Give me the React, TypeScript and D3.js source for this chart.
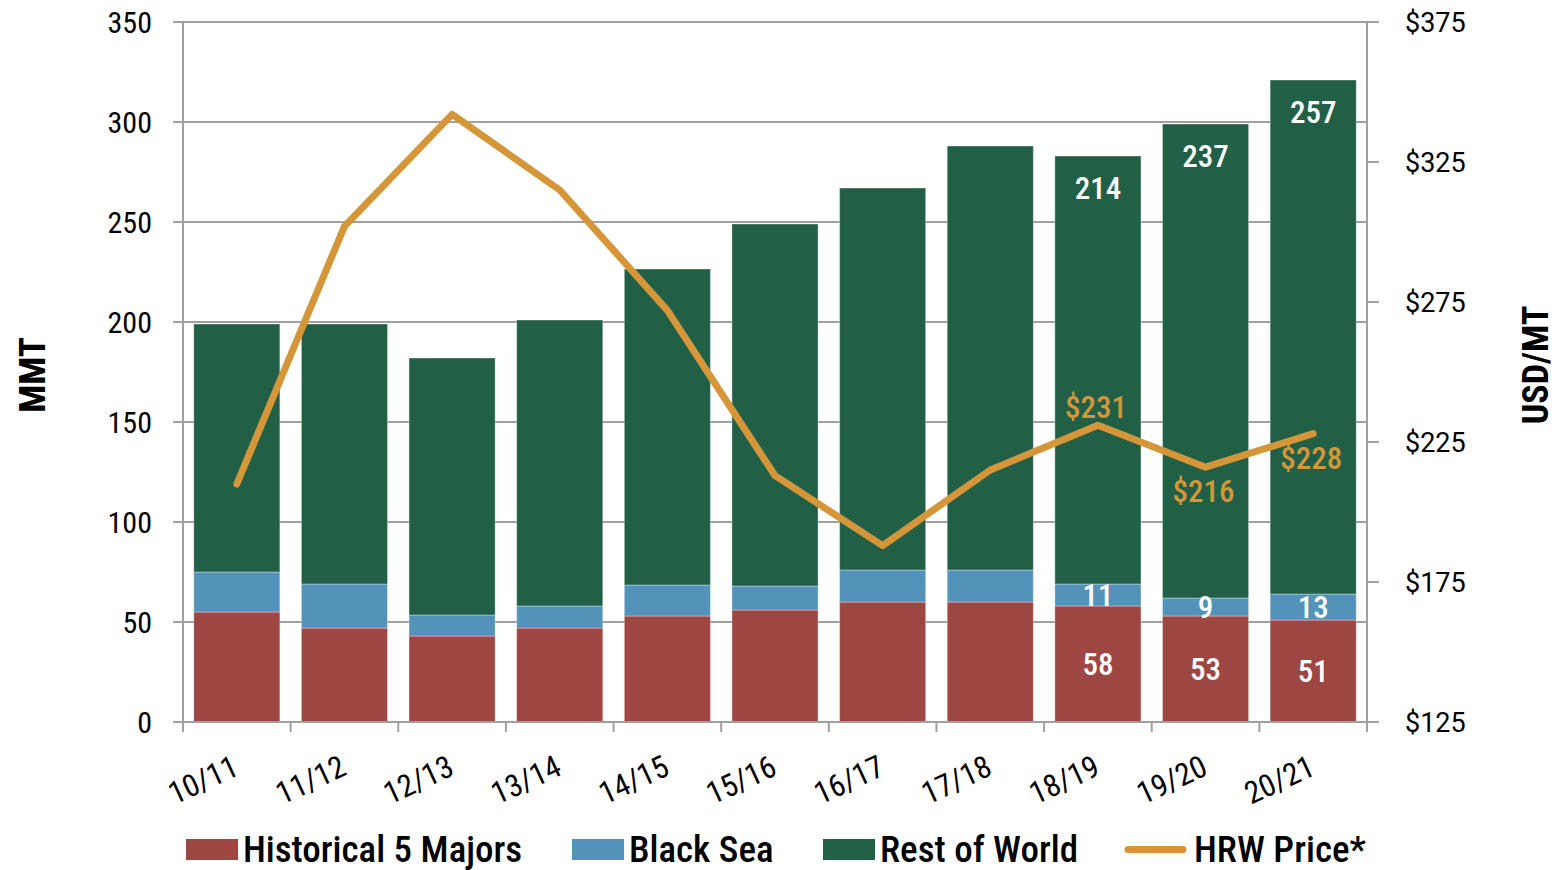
import * as d3 from "d3";

const categories = ["10/11", "11/12", "12/13", "13/14", "14/15", "15/16", "16/17", "17/18", "18/19", "19/20", "20/21"];
const majors = [55, 47, 43, 47, 53, 56, 60, 60, 58, 53, 51];
const blackSea = [20, 22, 10.5, 11, 15.5, 12, 16, 16, 11, 9, 13];
const restOfWorld = [124, 130, 128.5, 143, 158, 181, 191, 212, 214, 237, 257];
const hrwPrice = [210, 302, 342, 315, 272, 213, 188, 215, 231, 216, 228];
const leftTicks = [0, 50, 100, 150, 200, 250, 300, 350];
const rightTicks = [125, 175, 225, 275, 325, 375];
// which bars get value labels
const labeledBars = ["18/19", "19/20", "20/21"];
const priceLabelPos: Record<string, "above" | "below"> = { "18/19": "above", "19/20": "below", "20/21": "below" };

const COLORS = { majors: "#9e4642", black: "#5393b9", rest: "#216047", price: "#d5963a" };
const COND = '"Roboto Condensed", "Liberation Sans Narrow", "DejaVu Sans Condensed", Roboto, sans-serif';

const W = 1557, H = 870;
const left = 183, right = 1367, top = 22, bottom = 722;

export default function App() {
	const x = d3.scaleBand().domain(categories).range([left, right]).paddingInner(0.2).paddingOuter(0.1);
	const xEdge = d3.scaleBand().domain(categories).range([left, right]);
	const y = d3.scaleLinear().domain([0, 350]).range([bottom, top]);
	const y2 = d3.scaleLinear().domain([125, 375]).range([bottom, top]);

	const rows = categories.map((c, i) => ({ c, m: majors[i], b: blackSea[i], r: restOfWorld[i] }));
	const stack = d3.stack<any>().keys(["m", "b", "r"])(rows);
	const fills = [COLORS.majors, COLORS.black, COLORS.rest];

	const line = d3.line<number>()
		.x((_, i) => (x(categories[i]) ?? 0) + x.bandwidth() / 2)
		.y(d => y2(d));

	const legend = [
		{ label: "Historical 5 Majors", color: COLORS.majors, x: 186, type: "rect" },
		{ label: "Black Sea", color: COLORS.black, x: 572, type: "rect" },
		{ label: "Rest of World", color: COLORS.rest, x: 823, type: "rect" },
		{ label: "HRW Price*", color: COLORS.price, x: 1125, type: "line" },
	];

	return (
		<svg width={W} height={H} style={{ position: "absolute", left: 0, top: 0, background: "#fff" }}>
			{/* grid */}
			{leftTicks.map(t => (
				<g key={t}>
					<line x1={left - 10} x2={right} y1={y(t)} y2={y(t)} stroke="#a0a0a0" strokeWidth={2} />
					<text x={152} y={y(t)} dy="0.36em" textAnchor="end" fontFamily={COND} fontSize={30} fill="#000">{t}</text>
				</g>
			))}

			{/* bars */}
			{stack.map((layer, li) => (
				<g key={li}>
					{layer.map((d, i) => (
						<rect key={i} x={x(categories[i])} y={y(d[1])} width={x.bandwidth()} height={y(d[0]) - y(d[1])}
							fill={fills[li]} stroke="rgba(255,255,255,0.35)" strokeWidth={1} />
					))}
				</g>
			))}

			{/* axes */}
			<line x1={left} x2={left} y1={top} y2={bottom + 10} stroke="#a0a0a0" strokeWidth={2} />
			<line x1={right} x2={right} y1={top} y2={bottom + 10} stroke="#a0a0a0" strokeWidth={2} />
			<line x1={left - 10} x2={right} y1={bottom} y2={bottom} stroke="#a0a0a0" strokeWidth={2} />
			{categories.map(c => (
				<line key={c} x1={xEdge(c)} x2={xEdge(c)} y1={bottom} y2={bottom + 10} stroke="#a0a0a0" strokeWidth={2} />
			))}
			{rightTicks.map(t => (
				<g key={t}>
					<line x1={right} x2={right + 12} y1={y2(t)} y2={y2(t)} stroke="#a0a0a0" strokeWidth={2} />
					<text x={1405} y={y2(t)} dy="0.36em" fontFamily="Roboto, sans-serif" fontSize={27} fill="#000">${t}</text>
				</g>
			))}

			{/* x labels */}
			{categories.map(c => {
				const cx = (x(c) ?? 0) + x.bandwidth() / 2;
				return (
					<text key={c} transform={`translate(${cx - 1},${bottom + 42}) rotate(-25)`} textAnchor="end"
						fontFamily={COND} fontSize={31} fill="#000" dy="0.36em">{c}</text>
				);
			})}

			{/* value labels */}
			{categories.map((c, i) => {
				if (!labeledBars.includes(c)) return null;
				const cx = (x(c) ?? 0) + x.bandwidth() / 2;
				const total = majors[i] + blackSea[i] + restOfWorld[i];
				return (
					<g key={c} fontFamily={COND} fontSize={31} fontWeight={500} fill="#fff" textAnchor="middle">
						<text x={cx} y={y(majors[i] / 2)} dy="0.36em">{majors[i]}</text>
						<text x={cx} y={y(majors[i] + blackSea[i] / 2)} dy="0.36em">{blackSea[i]}</text>
						<text x={cx} y={y(total) + 32} dy="0.36em">{restOfWorld[i]}</text>
					</g>
				);
			})}

			{/* price line */}
			<path d={line(hrwPrice) ?? ""} fill="none" stroke={COLORS.price} strokeWidth={7} strokeLinejoin="round" strokeLinecap="round" />
			{categories.map((c, i) => {
				const pos = priceLabelPos[c];
				if (!pos) return null;
				const cx = (x(c) ?? 0) + x.bandwidth() / 2;
				const py = y2(hrwPrice[i]) + (pos === "above" ? -18 : 24);
				return (
					<text key={c} x={cx - 2} y={py} dy="0.36em" textAnchor="middle" fontFamily={COND} fontSize={31} fontWeight={500} fill={COLORS.price}>${hrwPrice[i]}</text>
				);
			})}

			{/* axis titles */}
			<text transform={`translate(32,${(top + bottom) / 2 + 3}) rotate(-90)`} textAnchor="middle" dy="0.36em"
				fontFamily={COND} fontSize={37} fontWeight={700} fill="#000">MMT</text>
			<text transform={`translate(1535,${(top + bottom) / 2 - 7}) rotate(-90)`} textAnchor="middle" dy="0.36em"
				fontFamily={COND} fontSize={36} fontWeight={700} fill="#000">USD/MT</text>

			{/* legend */}
			{legend.map(l => (
				<g key={l.label}>
					{l.type === "rect"
						? <rect x={l.x} y={839} width={52} height={21} fill={l.color} />
						: <line x1={l.x + 3} x2={l.x + 58} y1={849.5} y2={849.5} stroke={l.color} strokeWidth={7} strokeLinecap="round" />}
					<text x={l.x + (l.type === "rect" ? 57 : 69)} y={849} dy="0.36em" fontFamily={COND} fontSize={37} fontWeight={500} fill="#000">{l.label}</text>
				</g>
			))}
		</svg>
	);
}
